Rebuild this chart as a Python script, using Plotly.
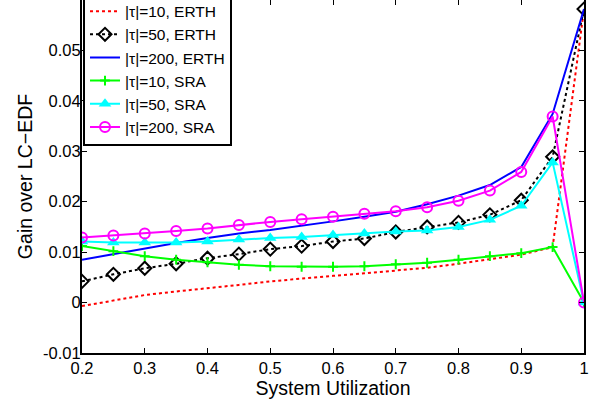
import plotly.graph_objects as go

x = [0.2, 0.25, 0.3, 0.35, 0.4, 0.45, 0.5, 0.55, 0.6, 0.65, 0.7, 0.75, 0.8, 0.85, 0.9, 0.95, 1.0]

erth_10 = [-0.0007, 0.0004, 0.0015, 0.0022, 0.0028, 0.0035, 0.0042, 0.0048, 0.0053, 0.0058, 0.0063, 0.0069, 0.0077, 0.0086, 0.0095, 0.0110, 0.0582]
erth_50 = [0.0042, 0.0056, 0.0068, 0.0077, 0.0088, 0.0096, 0.0106, 0.0112, 0.0121, 0.0127, 0.0140, 0.0150, 0.0159, 0.0174, 0.0203, 0.0289, 0.0582]
erth_200 = [0.0085, 0.0096, 0.0108, 0.0118, 0.0128, 0.0137, 0.0144, 0.0152, 0.0161, 0.0170, 0.0180, 0.0195, 0.0212, 0.0233, 0.0269, 0.0374, 0.0582]
sra_10 = [0.0112, 0.0102, 0.0092, 0.0085, 0.0080, 0.0075, 0.0072, 0.0071, 0.0071, 0.0072, 0.0076, 0.0079, 0.0085, 0.0092, 0.0098, 0.0110, 0.0]
sra_50 = [0.0121, 0.0119, 0.0119, 0.0119, 0.0121, 0.0125, 0.0128, 0.0130, 0.0134, 0.0137, 0.0141, 0.0143, 0.0150, 0.0164, 0.0192, 0.0278, 0.0]
sra_200 = [0.0129, 0.0133, 0.0137, 0.0142, 0.0147, 0.0154, 0.0160, 0.0165, 0.0170, 0.0176, 0.0181, 0.0189, 0.0202, 0.0222, 0.0259, 0.0369, 0.0]

labels = ["|τ|=10, ERTH", "|τ|=50, ERTH", "|τ|=200, ERTH", "|τ|=10, SRA", "|τ|=50, SRA", "|τ|=200, SRA"]

x_ticks = [0.2, 0.3, 0.4, 0.5, 0.6, 0.7, 0.8, 0.9, 1.0]
x_ticktext = ["0.2", "0.3", "0.4", "0.5", "0.6", "0.7", "0.8", "0.9", "1"]
y_ticks = [-0.01, 0, 0.01, 0.02, 0.03, 0.04, 0.05]
y_ticktext = ["-0.01", "0", "0.01", "0.02", "0.03", "0.04", "0.05"]

fig = go.Figure()
fig.add_trace(go.Scatter(x=x, y=erth_10, name=labels[0], mode="lines",
                         line=dict(color="#FF0000", width=2, dash="dot")))
fig.add_trace(go.Scatter(x=x, y=erth_50, name=labels[1], mode="lines+markers",
                         line=dict(color="#000000", width=2, dash="dot"),
                         marker=dict(symbol="diamond-open", size=10, color="#000000",
                                     line=dict(width=2, color="#000000"))))
fig.add_trace(go.Scatter(x=x, y=erth_200, name=labels[2], mode="lines",
                         line=dict(color="#0000FF", width=2)))
fig.add_trace(go.Scatter(x=x, y=sra_10, name=labels[3], mode="lines+markers",
                         line=dict(color="#00FF00", width=2),
                         marker=dict(symbol="cross-thin", size=7, color="#00FF00",
                                     line=dict(width=2, color="#00FF00"))))
fig.add_trace(go.Scatter(x=x, y=sra_50, name=labels[4], mode="lines+markers",
                         line=dict(color="#00FFFF", width=2),
                         marker=dict(symbol="triangle-up", size=11, color="#00FFFF")))
fig.add_trace(go.Scatter(x=x, y=sra_200, name=labels[5], mode="lines+markers",
                         line=dict(color="#FF00FF", width=2),
                         marker=dict(symbol="circle-open", size=10, color="#FF00FF",
                                     line=dict(width=2, color="#FF00FF"))))

axis_common = dict(showline=True, linecolor="black", linewidth=2, mirror="ticks",
                   ticks="inside", ticklen=5, tickwidth=1, tickcolor="black",
                   showgrid=False, zeroline=False,
                   tickfont=dict(family="Liberation Sans, Arial", size=16.5, color="black"))

fig.update_layout(
    width=600, height=408,
    margin=dict(l=82, r=16, t=0, b=55, autoexpand=False),
    plot_bgcolor="white", paper_bgcolor="white",
    font=dict(family="Liberation Sans, Arial", size=16, color="black"),
    xaxis=dict(range=[0.2, 1.0], tickvals=x_ticks, ticktext=x_ticktext,
               ticklabelstandoff=-1,
               title=dict(text="System Utilization", font=dict(size=19.5), standoff=1),
               **axis_common),
    yaxis=dict(range=[-0.01, 0.06], tickvals=y_ticks, ticktext=y_ticktext,
               ticklabelstandoff=-4,
               title=dict(text="Gain over LC−EDF", font=dict(size=19.5), standoff=5),
               **axis_common),
    legend=dict(x=0.002, y=1.021, xanchor="left", yanchor="top",
                bgcolor="white", bordercolor="black", borderwidth=2,
                font=dict(family="Liberation Sans, Arial", size=15.5, color="black"),
                tracegroupgap=0, itemwidth=30),
    showlegend=True,
)

fig.write_html("out.html")
